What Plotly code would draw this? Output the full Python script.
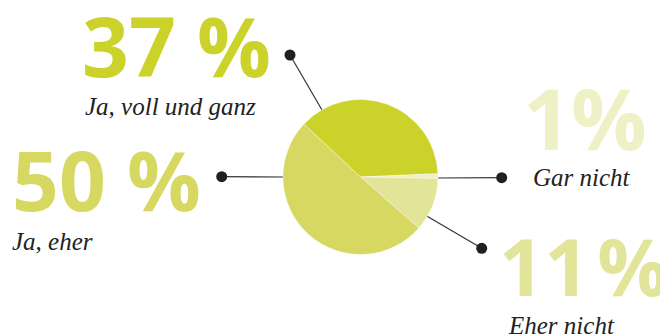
import plotly.graph_objects as go

# Data
labels = ["Ja, voll und ganz", "Gar nicht", "Eher nicht", "Ja, eher"]
values = [37, 1, 11, 50]
pct_text = ["37 %", "1%", "11\u200a%", "50 %"]
colors = ["#cbd32b", "#eef0c6", "#e2e49a", "#d6d862"]

W, H = 660, 336
cx, cy, R = 360.5, 177, 77.5

# Label layout (pixel positions): big number centre-left, label centre-left, dot, line end
big_pos = [(80, 45), (521, 117), (497, 265), (10, 179)]
big_size = [82, 84, 79, 82]
lab_pos = [(83, 106), (531, 177.5), (506, 325.5), (10, 241)]
dots = [(290, 55), (501.7, 177.7), (481.7, 248.3), (221.7, 176.7)]
ends = [(322, 110), (438, 178), (426.7, 216), (284, 177)]

fig = go.Figure()

fig.add_trace(go.Pie(
    labels=labels, values=values, sort=False, direction="clockwise",
    rotation=-47, textinfo="none", hoverinfo="label+value",
    marker=dict(colors=colors, line=dict(color="rgba(255,255,255,0.6)", width=0.6)),
    domain=dict(x=[(cx - R) / W, (cx + R) / W], y=[(H - cy - R) / H, (H - cy + R) / H]),
    showlegend=False,
))

for (dx, dy), (ex, ey) in zip(dots, ends):
    fig.add_trace(go.Scatter(x=[ex, dx], y=[ey, dy], mode="lines",
                             line=dict(color="#333333", width=1.2),
                             hoverinfo="skip", showlegend=False))
fig.add_trace(go.Scatter(x=[d[0] for d in dots], y=[d[1] for d in dots], mode="markers",
                         marker=dict(color="#231f20", size=11),
                         hoverinfo="skip", showlegend=False))

for t, c, s, (bx, by) in zip(pct_text, colors, big_size, big_pos):
    fig.add_annotation(x=bx, y=by, xref="x", yref="y", text=t, showarrow=False,
                       xanchor="left", yanchor="middle",
                       font=dict(family="Open Sans", size=s, color=c, weight=700))
for t, (lx, ly) in zip(labels, lab_pos):
    fig.add_annotation(x=lx, y=ly, xref="x", yref="y", text=t, showarrow=False,
                       xanchor="left", yanchor="middle",
                       font=dict(family="Liberation Serif", size=25, color="#222222", style="italic"))

fig.update_layout(
    width=W, height=H, margin=dict(l=0, r=0, t=0, b=0),
    paper_bgcolor="white", plot_bgcolor="white",
    xaxis=dict(range=[0, W], visible=False, domain=[0, 1], fixedrange=True),
    yaxis=dict(range=[H, 0], visible=False, domain=[0, 1], fixedrange=True),
)

fig.write_html("out.html", config={"displayModeBar": False},
               post_script="document.body.style.margin='0';document.body.style.overflow='hidden';")
